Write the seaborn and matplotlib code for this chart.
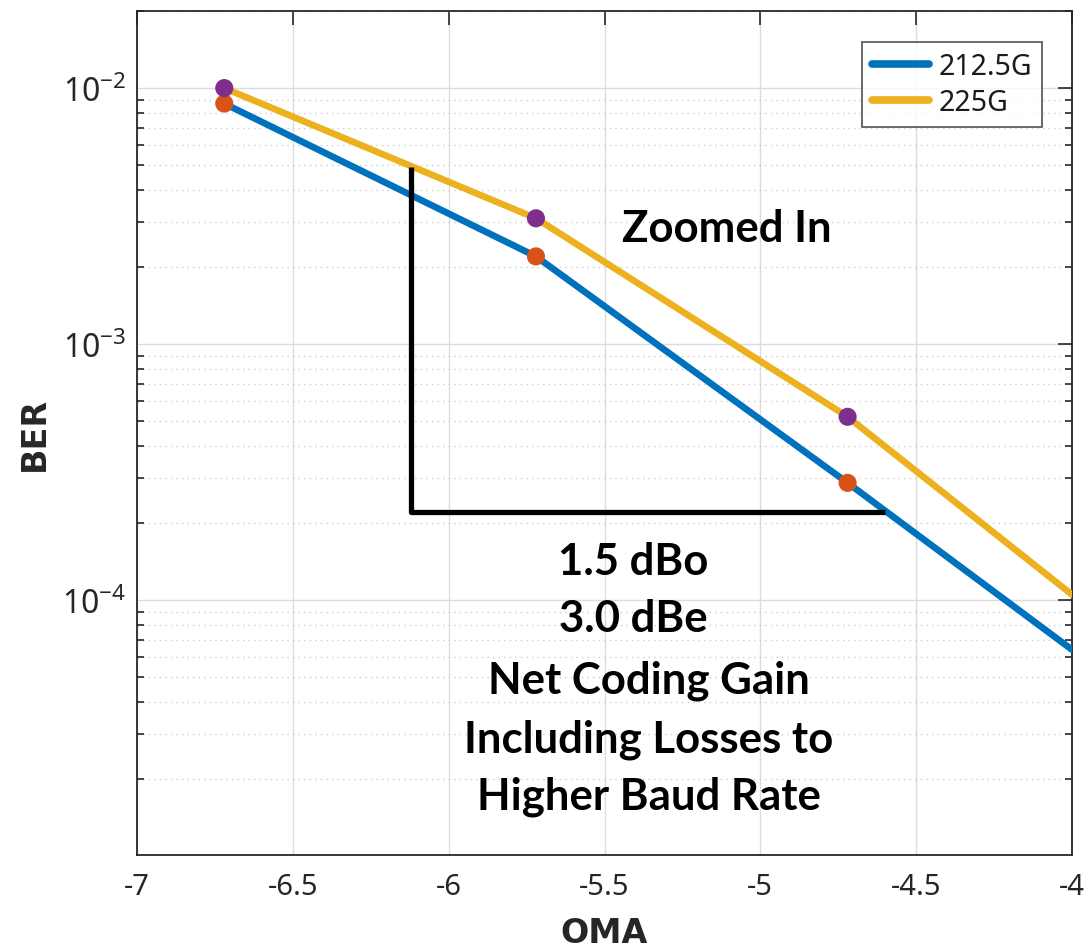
import numpy as np
import pandas as pd
import matplotlib
matplotlib.use("Agg")
import matplotlib.pyplot as plt
import seaborn as sns
from matplotlib.ticker import FixedLocator, NullFormatter, LogLocator

# ---------------- data ----------------
series_names = ["212.5G", "225G"]
oma_line = [-6.72, -5.72, -4.72, -4.0]
ber_2125 = [8.7e-3, 2.2e-3, 2.87e-4, 6.4e-5]
ber_225 = [1.0e-2, 3.1e-3, 5.2e-4, 1.05e-4]
oma_marks = [-6.72, -5.72, -4.72]
ber_2125_marks = [8.7e-3, 2.2e-3, 2.87e-4]
ber_225_marks = [1.0e-2, 3.1e-3, 5.2e-4]
bracket_x = [-6.12, -6.12, -4.60]
bracket_y = [4.9e-3, 2.2e-4, 2.2e-4]
x_ticks = [-7, -6.5, -6, -5.5, -5, -4.5, -4]
x_ticklabels = ["-7", "-6.5", "-6", "-5.5", "-5", "-4.5", "-4"]
y_ticks = [1e-4, 1e-3, 1e-2]
y_ticklabels = [r"$\mathregular{10^{-4}}$", r"$\mathregular{10^{-3}}$", r"$\mathregular{10^{-2}}$"]
zoom_label = "Zoomed In"
notes = ["1.5 dBo", "3.0 dBe", "Net Coding Gain", "Including Losses to", "Higher Baud Rate"]

line_colors = {"212.5G": "#0072BD", "225G": "#EDB120"}
mark_colors = {"212.5G": "#D95319", "225G": "#7E2F8E"}

df = pd.DataFrame({
    "OMA": oma_line * 2,
    "BER": ber_2125 + ber_225,
    "series": [series_names[0]] * len(oma_line) + [series_names[1]] * len(oma_line),
})
dm = pd.DataFrame({
    "OMA": oma_marks * 2,
    "BER": ber_2125_marks + ber_225_marks,
    "series": [series_names[0]] * len(oma_marks) + [series_names[1]] * len(oma_marks),
})

sns.set_theme(style="white")
plt.rcParams["font.family"] = ["Noto Sans", "DejaVu Sans"]
plt.rcParams["mathtext.fontset"] = "custom"
plt.rcParams["mathtext.rm"] = "Noto Sans"

fig = plt.figure(figsize=(10.9, 9.53), dpi=100)
ax = fig.add_axes([0.1257, 0.1018, 0.8578, 0.8856])

sns.lineplot(data=df, x="OMA", y="BER", hue="series", palette=line_colors,
             linewidth=4.8, ax=ax, zorder=3, legend=True)
sns.scatterplot(data=dm, x="OMA", y="BER", hue="series", palette=mark_colors,
                s=170, edgecolor="none", ax=ax, zorder=4, legend=False)

ax.plot(bracket_x, bracket_y, color="black", lw=3.8, zorder=5, solid_capstyle="butt")

ax.set_yscale("log")
ax.set_xlim(-7, -4)
ax.set_ylim(1.01e-5, 2.0e-2)

ax.xaxis.set_major_locator(FixedLocator(x_ticks))
ax.set_xticklabels(x_ticklabels)
ax.yaxis.set_major_locator(FixedLocator(y_ticks))
ax.set_yticklabels(y_ticklabels)
ax.yaxis.set_minor_locator(LogLocator(base=10, subs=np.arange(2, 10)))
ax.yaxis.set_minor_formatter(NullFormatter())

ax.grid(True, which="major", axis="both", color="#dcdcdc", lw=1.0, ls="-")
ax.grid(True, which="minor", axis="y", color="#cccccc", lw=1.0, ls=(0, (1, 3)))
ax.set_axisbelow(True)

for s in ax.spines.values():
    s.set_color("#262626")
    s.set_linewidth(1.3)
ax.tick_params(axis="both", which="major", direction="in", length=10, width=1.2,
               color="#262626", top=True, right=True, labelcolor="#262626", pad=12)
ax.tick_params(axis="x", which="major", labelsize=21)
ax.tick_params(axis="y", which="major", labelsize=23, pad=8)
ax.tick_params(axis="y", which="minor", direction="in", length=5, width=1.2,
               color="#262626", left=True, right=True)

ax.set_xlabel("OMA", fontsize=24, fontweight="bold", color="#262626", labelpad=11,
              family=["DejaVu Sans"])
ax.set_ylabel("BER", fontsize=24, fontweight="bold", color="#262626", labelpad=8,
              family=["DejaVu Sans"])

leg = ax.legend(loc="upper right", bbox_to_anchor=(0.968, 0.963), borderaxespad=0,
                fontsize=20.5, frameon=True, fancybox=False, edgecolor="#262626",
                handlelength=2.0, handletextpad=0.35, borderpad=0.35, labelspacing=0.25)
leg.get_frame().set_linewidth(1.2)
for h in leg.get_lines():
    h.set_linewidth(5.5)
for t in leg.get_texts():
    t.set_color("#1a1a1a")

ax.text(0.631, 0.7275, zoom_label, transform=ax.transAxes, ha="center", va="baseline",
        fontsize=31.5, fontweight="bold", family=["Lato", "DejaVu Sans"], color="black")
note_x = [0.5305, 0.5305, 0.5476, 0.5476, 0.5476]
note_y = [0.3329, 0.2654, 0.1931, 0.1232, 0.0545]
for txt, xx, yy in zip(notes, note_x, note_y):
    ax.text(xx, yy, txt, transform=ax.transAxes, ha="center", va="baseline",
            fontsize=31.5, fontweight="bold", family=["Lato", "DejaVu Sans"], color="black")

fig.savefig("out.png", dpi=100)
